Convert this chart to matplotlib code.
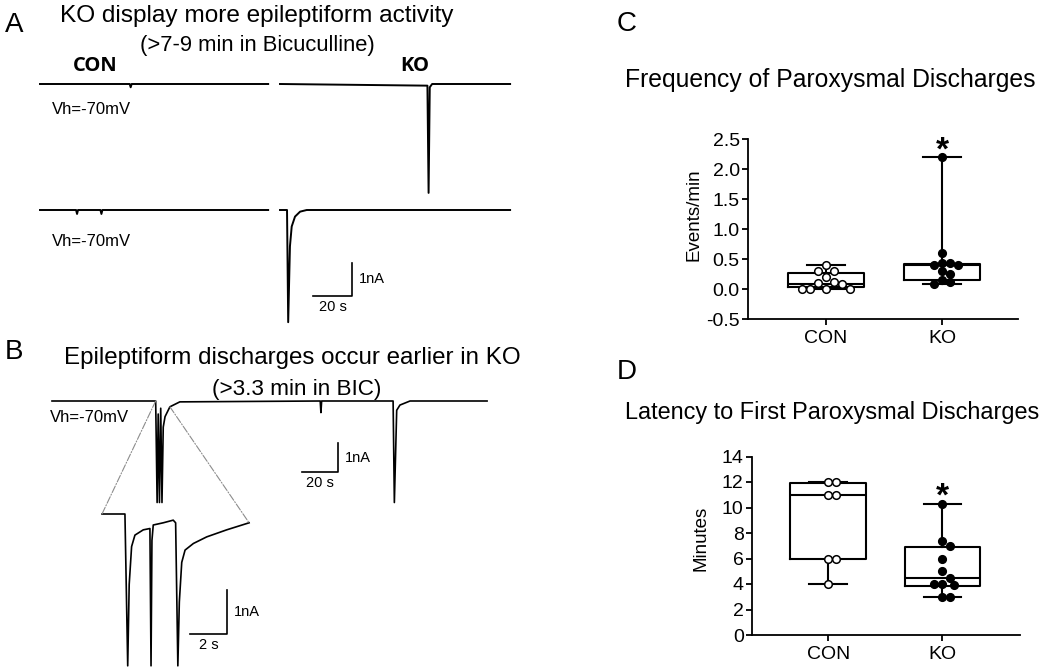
import numpy as np
import matplotlib
matplotlib.use("Agg")
import matplotlib.pyplot as plt
from matplotlib.patches import ConnectionPatch

plt.rcParams['font.family'] = ['Liberation Sans', 'DejaVu Sans']

W, H = 1050, 669

# ---------------- data (time in s, current in nA) ----------------
# panel A, CON and KO, two example cells each
a_con1_t = [0, 46.0, 46.5, 47.0, 117]
a_con1_i = [0, 0, -0.10, 0, 0]
a_ko1_t = [0, 75.6, 76.2, 76.8, 78.0, 118]
a_ko1_i = [0, -0.05, -3.30, -0.10, 0, 0]
a_con2_t = [0, 18.5, 19.0, 19.5, 31.0, 31.5, 32.0, 117]
a_con2_i = [0, 0, -0.12, 0, 0, -0.12, 0, 0]
a_ko2_t = [0, 3.6, 4.2, 5.1, 6.0, 7.7, 10.3, 13.7, 118]
a_ko2_i = [0, 0, -3.40, -1.10, -0.50, -0.20, -0.05, 0, 0]

# panel B, whole sweep
b_t = [0, 57.6, 58.4, 59.0, 59.7, 60.4, 61.1, 61.8, 62.8, 65.5, 71.0,
       149.0, 149.4, 149.8, 189.5, 190.2, 191.5, 193.3, 198.9, 241.7]
b_i = [0, 0, -3.5, -0.45, -3.5, -0.25, -3.5, -0.9, -0.54, -0.2, -0.03,
       0, -0.4, 0, 0, -3.5, -0.32, -0.14, 0, 0]
# panel B, expanded burst
z_t = [0, 1.24, 1.39, 1.47, 1.60, 1.78, 2.23, 2.59, 2.65, 2.70, 2.77, 3.31,
       3.85, 3.98, 4.10, 4.18, 4.31, 4.49, 4.94, 5.66, 6.74, 7.95]
z_i = [0, 0, -3.45, -1.6, -0.74, -0.48, -0.36, -0.33, -3.45, -0.6, -0.25, -0.20,
       -0.14, -0.20, -3.45, -2.0, -1.10, -0.82, -0.67, -0.52, -0.36, -0.20]

# panels C and D
groups = ['CON', 'KO']
freq_con = [0.40, 0.30, 0.30, 0.20, 0.12, 0.09, 0.0, 0.0, 0.0, 0.0, 0.10]
freq_ko = [2.20, 0.60, 0.43, 0.40, 0.40, 0.44, 0.30, 0.25, 0.15, 0.08, 0.11]
lat_con = [12, 12, 11, 11, 6, 6, 4]
lat_ko = [10.3, 7.4, 7.0, 6.0, 5.0, 4.5, 4.0, 3.9, 4.0, 3.0, 3.0]
# box stats: q1, median, q3, min, max
freq_box = [[0.03, 0.08, 0.27, 0.0, 0.40], [0.155, 0.40, 0.42, 0.08, 2.20]]
lat_box = [[6.0, 11.0, 11.9, 4.0, 12.0], [3.87, 4.5, 6.93, 3.0, 10.3]]

fig = plt.figure(figsize=(W / 100, H / 100), dpi=100)


def px_axes(x0, y0, x1, y1):
    return fig.add_axes([x0 / W, 1 - y1 / H, (x1 - x0) / W, (y1 - y0) / H])


def label(x, y, s, **kw):
    # x, y in pixels from the top-left corner
    kw.setdefault('va', 'center')
    fig.text(x, H - y, s, transform=None, **kw)


def trace(x0, y0, t, i, px_s, px_na, lw=1.4):
    t = np.asarray(t, float)
    i = np.asarray(i, float)
    lo, hi = i.min() - 0.1, 0.2
    ax = px_axes(x0, y0 - hi * px_na, x0 + (t[-1] - t[0]) * px_s, y0 - lo * px_na)
    ax.set_xlim(t[0], t[-1])
    ax.set_ylim(lo, hi)
    ax.axis('off')
    ax.plot(t, i, color='k', lw=lw, clip_on=False)
    return ax


def scalebar(ax, t_end, i_base, dt, di, tlab, ilab, fs=10.5):
    ax.plot([t_end - dt, t_end, t_end], [i_base, i_base, i_base + di],
            color='k', lw=1.2, clip_on=False)
    ax.annotate(ilab, xy=(t_end, i_base + di / 2), xytext=(5, 0),
                textcoords='offset points', ha='left', va='center', fontsize=fs)
    ax.annotate(tlab, xy=(t_end - dt / 2, i_base), xytext=(0, -3),
                textcoords='offset points', ha='center', va='top', fontsize=fs)


# ---------------- panel A ----------------
trace(40, 84, a_con1_t, a_con1_i, 1.95, 33)
trace(280, 84, a_ko1_t, a_ko1_i, 1.95, 33)
trace(40, 210, a_con2_t, a_con2_i, 1.95, 33)
ax_ko2 = trace(280, 210, a_ko2_t, a_ko2_i, 1.95, 33)
scalebar(ax_ko2, 36.9, -2.6, 20, 1, '20 s', '1nA')

label(5, 25, 'A', fontsize=20)
label(60, 16, 'KO display more epileptiform activity', fontsize=17.6)
label(140, 45, '(>7-9 min in Bicuculline)', fontsize=15.8)
label(73, 66, 'CON', fontsize=14.5, fontweight='bold', family='Open Sans')
label(400, 66, 'KO', fontsize=14.5, fontweight='bold', family='Open Sans')
label(52, 110, 'Vh=-70mV', fontsize=12)
label(52, 242, 'Vh=-70mV', fontsize=12)

# ---------------- panel B ----------------
ax_b = trace(52, 401, b_t, b_i, 1.8, 29, lw=1.2)
scalebar(ax_b, 158.9, -2.45, 20, 1, '20 s', '1nA')
ax_z = trace(102, 514, z_t, z_i, 18.5, 44, lw=1.2)
scalebar(ax_z, 6.76, -2.73, 2, 1, '2 s', '1nA')

for (tb, ib), (tz, iz) in [((57.6, 0), (z_t[0], z_i[0])), ((65.5, -0.2), (z_t[-1], z_i[-1]))]:
    con = ConnectionPatch(xyA=(tb, ib), coordsA=ax_b.transData,
                          xyB=(tz, iz), coordsB=ax_z.transData,
                          color='#8c8c8c', lw=0.8, ls='-.')
    fig.add_artist(con)

label(5, 352, 'B', fontsize=20)
label(64, 358, 'Epileptiform discharges occur earlier in KO', fontsize=17.4)
label(212, 390, '(>3.3 min in BIC)', fontsize=16.2)
label(50, 418, 'Vh=-70mV', fontsize=12)


# ---------------- panels C and D ----------------
def swarm_x(ax, xc, vals, gap_px=8.0):
    vals = np.asarray(vals, float)
    pts = ax.transData.transform(np.column_stack([np.full(len(vals), xc), vals]))
    ys = pts[:, 1]
    sx = ax.transData.transform((1, 0))[0] - ax.transData.transform((0, 0))[0]
    placed = []
    offs = np.zeros(len(vals))
    cands = [0.0]
    for j in range(1, 30):
        cands += [j * gap_px / 2, -j * gap_px / 2]
    for k in np.argsort(-vals, kind='stable'):
        for c in cands:
            if all((c - px) ** 2 + (ys[k] - py) ** 2 >= gap_px ** 2 * 0.98 for px, py in placed):
                offs[k] = c
                placed.append((c, ys[k]))
                break
    return xc + offs / sx


def box_panel(rect, xlim, ylim, yticks, ytlabels, boxes, data, ylabel, ylab_xy):
    ax = px_axes(*rect)
    ax.set_xlim(*xlim)
    ax.set_ylim(*ylim)
    stats = [dict(q1=b[0], med=b[1], q3=b[2], whislo=b[3], whishi=b[4], fliers=[])
             for b in boxes]
    lp = dict(color='k', lw=1.5)
    ax.bxp(stats, positions=[0, 1], widths=0.66, capwidths=0.33, showfliers=False,
           boxprops=lp, whiskerprops=lp, capprops=lp, medianprops=lp)
    for pos, vals, face in [(0, data[0], 'white'), (1, data[1], 'black')]:
        ax.scatter(swarm_x(ax, pos, vals), vals, s=30, facecolor=face,
                   edgecolor='k', linewidth=1.1, zorder=5, clip_on=False)
    ax.annotate('*', xy=(1, boxes[1][4]), xytext=(0, 4.5), textcoords='offset points',
                ha='center', va='center', fontsize=24, fontweight='bold')
    ax.spines[['top', 'right']].set_visible(False)
    ax.spines[['left', 'bottom']].set_linewidth(1.3)
    ax.set_xticks([0, 1])
    ax.set_xticklabels(groups)
    ax.set_yticks(yticks)
    ax.set_yticklabels(ytlabels)
    ax.tick_params(direction='out', length=4, width=1.3, labelsize=14, pad=2)
    ax.tick_params(axis='x', pad=4)
    ax.set_ylabel(ylabel, fontsize=13.5)
    ax.yaxis.set_label_coords(*ylab_xy)
    return ax


fticks = [-0.5, 0, 0.5, 1.0, 1.5, 2.0, 2.5]
box_panel((748, 139, 1018, 319), (-0.672, 1.655), (-0.5, 2.5), fticks,
          ['%.1f' % v for v in fticks], freq_box, [freq_con, freq_ko],
          'Events/min', (-0.17, 0.58))
lticks = list(range(0, 15, 2))
box_panel((752, 456.5, 1020, 635), (-0.667, 1.68), (0, 14), lticks,
          [str(v) for v in lticks], lat_box, [lat_con, lat_ko],
          'Minutes', (-0.16, 0.54))

label(617, 24, 'C', fontsize=20)
label(625, 80, 'Frequency of Paroxysmal Discharges', fontsize=17.8)
label(617, 372, 'D', fontsize=20)
label(625, 412, 'Latency to First Paroxysmal Discharges', fontsize=16.9)

fig.savefig('out.png', dpi=100)
